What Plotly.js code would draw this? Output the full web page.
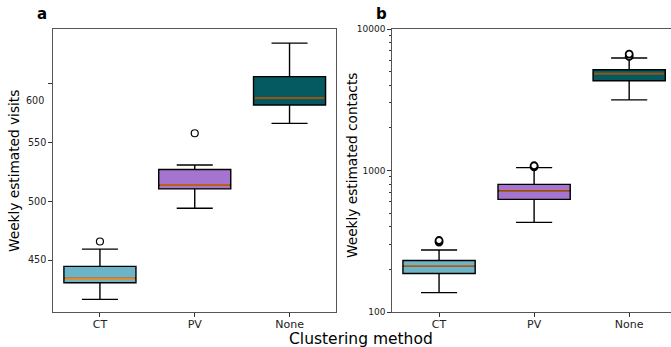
<!DOCTYPE html>
<html>
<head>
<meta charset="utf-8">
<script src="https://cdn.plot.ly/plotly-3.0.1.min.js"></script>
<style>html,body{margin:0;padding:0;background:#fff;}#chart{width:671px;height:347px;}</style>
</head>
<body>
<div id="chart"></div>
<script>
// ---- data ----
var categories = ['CT', 'PV', 'None'];
var boxColors = ['#6cb4c8', '#a474cf', '#045a60'];

// panel a: weekly estimated visits
var visitsQ1 = [430.8, 510.4, 581.6];
var visitsMedian = [434.5, 513.5, 587.5];
var visitsQ3 = [444.7, 526.8, 605.6];
var visitsLower = [416.7, 494.0, 566.0];
var visitsUpper = [459.3, 530.7, 634.0];
var visitsOutliers = [[465.8], [557.6], []];
var visitsTicks = [450, 500, 550, 600];

// panel b: weekly estimated contacts (log scale)
var contactsQ1 = [187, 625, 4305];
var contactsMedian = [211, 719, 4820];
var contactsQ3 = [231, 798, 5150];
var contactsLower = [137, 430, 3155];
var contactsUpper = [274, 1048, 6240];
var contactsOutliers = [[312, 320], [1062, 1080], [6400, 6650]];
var contactsTicks = [100, 1000, 10000];

var boxWidth = 0.76;
var medianAlphaA = [1.0, 0.75, 0.6];
var medianAlphaB = [0.6, 0.6, 0.6];

var traces = [];
function addPanel(q1, med, q3, lo, hi, outl, xa, ya, alphas, outW) {
  for (var i = 0; i < categories.length; i++) {
    traces.push({
      type: 'box', x: [i], q1: [q1[i]], median: [med[i]], q3: [q3[i]],
      lowerfence: [lo[i]], upperfence: [hi[i]],
      width: boxWidth, whiskerwidth: 0.5,
      fillcolor: boxColors[i], line: {color: '#000', width: 1.4},
      boxpoints: false, xaxis: xa, yaxis: ya, showlegend: false, hoverinfo: 'skip'
    });
  }
  for (var j = 0; j < categories.length; j++) {
    traces.push({
      type: 'scatter', mode: 'lines',
      x: [j - boxWidth / 2 + 0.01, j + boxWidth / 2 - 0.01], y: [med[j], med[j]],
      line: {color: 'rgba(255,127,14,' + alphas[j] + ')', width: 2},
      xaxis: xa, yaxis: ya, showlegend: false, hoverinfo: 'skip'
    });
    if (outl[j].length) {
      traces.push({
        type: 'scatter', mode: 'markers',
        x: outl[j].map(function () { return j; }), y: outl[j],
        marker: {symbol: 'circle', size: 7, color: '#fff', line: {color: '#000', width: outW}},
        xaxis: xa, yaxis: ya, showlegend: false, hoverinfo: 'skip'
      });
    }
  }
}
addPanel(visitsQ1, visitsMedian, visitsQ3, visitsLower, visitsUpper, visitsOutliers, 'x', 'y', medianAlphaA, 1.2);
addPanel(contactsQ1, contactsMedian, contactsQ3, contactsLower, contactsUpper, contactsOutliers, 'x2', 'y2', medianAlphaB, 1.8);

var idx = categories.map(function (c, i) { return i; });
var axisCommon = {
  showgrid: false, zeroline: false, showline: true, linecolor: '#555', linewidth: 1.3,
  ticks: 'outside', ticklen: 3.5, tickwidth: 1, tickcolor: '#333'
};
var yDom = [35 / 347, 318 / 347];

function ann(text, x, y, size, extra) {
  return Object.assign({
    text: text, xref: 'paper', yref: 'paper', x: x / 671, y: 1 - y / 347,
    xanchor: 'center', yanchor: 'middle', showarrow: false,
    font: {family: 'DejaVu Sans', size: size, color: '#000'}
  }, extra || {});
}

var layout = {
  width: 671, height: 347,
  margin: {l: 0, r: 0, t: 0, b: 0},
  paper_bgcolor: '#fff', plot_bgcolor: '#fff',
  font: {family: 'DejaVu Sans', size: 11, color: '#000'},
  xaxis: Object.assign({}, axisCommon, {
    domain: [53 / 671, 336 / 671], range: [-0.495, 2.49],
    tickmode: 'array', tickvals: idx, ticktext: categories, mirror: true,
    ticklabelstandoff: -2,
    tickfont: {family: 'DejaVu Sans', size: 11, color: '#222'}
  }),
  yaxis: Object.assign({}, axisCommon, {
    domain: yDom, range: [406, 646], anchor: 'x', mirror: true,
    tickmode: 'array', tickvals: visitsTicks,
    ticktext: visitsTicks.map(function (v) { return v === 600 ? '' : String(v); }),
    tickfont: {family: 'DejaVu Sans', size: 9.6, color: '#222'}
  }),
  xaxis2: Object.assign({}, axisCommon, {
    domain: [392 / 671, 1], range: [-0.495, 2.44], anchor: 'y2', mirror: true,
    tickmode: 'array', tickvals: idx, ticktext: categories,
    ticklabelstandoff: -2,
    tickfont: {family: 'DejaVu Sans', size: 11, color: '#222'}
  }),
  yaxis2: Object.assign({}, axisCommon, {
    domain: yDom, type: 'log', range: [2, 4], anchor: 'x2', mirror: false,
    tickmode: 'array', tickvals: contactsTicks, ticktext: contactsTicks.map(String),
    tickfont: {family: 'DejaVu Sans', size: 9, color: '#222'},
    minor: {ticks: 'outside', ticklen: 2, tickcolor: '#333', dtick: 'D1', showgrid: false}
  }),
  annotations: [
    ann('<b>a</b>', 42, 14, 15),
    ann('<b>b</b>', 381, 14, 15),
    ann('Clustering method', 361, 339, 15.5),
    ann('Weekly estimated visits', 14, 171, 13.7, {textangle: -90}),
    ann('Weekly estimated contacts', 352, 166, 13.7, {textangle: -90}),
    ann('600', 46, 100.7, 9.6, {xanchor: 'right', font: {family: 'DejaVu Sans', size: 9.6, color: '#222'}})
  ]
};

Plotly.newPlot('chart', traces, layout, {staticPlot: true, displayModeBar: false});
</script>
</body>
</html>
